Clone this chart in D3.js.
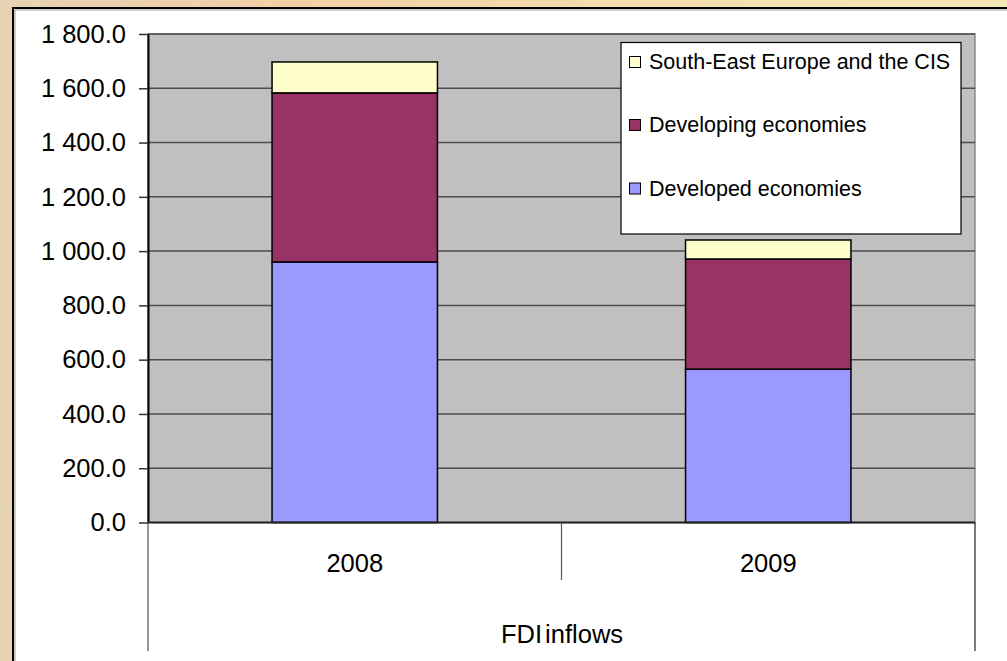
<!DOCTYPE html>
<html>
<head>
<meta charset="utf-8">
<script src="https://cdn.jsdelivr.net/npm/d3@7"></script>
<style>
  html, body { margin: 0; padding: 0; }
  body { width: 1007px; height: 661px; overflow: hidden; }
  svg { display: block; font-family: "Liberation Sans", Arial, sans-serif; }
</style>
</head>
<body>
<svg id="chart" width="1007" height="661"></svg>
<script>
// FDI inflows by group of economies, billions of dollars
const years = ["2008", "2009"];
const seriesNames = ["Developed economies", "Developing economies", "South-East Europe and the CIS"];
const developed = [960, 565];
const developing = [623, 406];
const seeCis = [114, 70];
const yTicks = [0, 200, 400, 600, 800, 1000, 1200, 1400, 1600, 1800];
const categoryTitle = "FDI inflows";

const colors = ["#9999FF", "#993366", "#FFFFCC"];

const svg = d3.select("#chart");

// page background
const defs = svg.append("defs");
const bg = defs.append("linearGradient").attr("id", "bg").attr("x1", "0").attr("y1", "0").attr("x2", "1").attr("y2", "0");
bg.append("stop").attr("offset", "0").attr("stop-color", "#E6D3B3");
bg.append("stop").attr("offset", "0.3").attr("stop-color", "#F3CFA6");
bg.append("stop").attr("offset", "0.6").attr("stop-color", "#F3DDB0");
bg.append("stop").attr("offset", "1").attr("stop-color", "#F4E8B4");
svg.append("rect").attr("width", 1007).attr("height", 661).attr("fill", "url(#bg)");

// chart frame
svg.append("rect")
  .attr("x", 13).attr("y", 8).attr("width", 1010).attr("height", 670)
  .attr("fill", "#FFFFFF").attr("stroke", "#000").attr("stroke-width", 2);
svg.append("path").attr("d", "M15,1000V10H1007").attr("fill", "none").attr("stroke", "#9a9a9a").attr("stroke-width", 1);

const plot = { left: 148, right: 975, top: 34, bottom: 522.5 };

const y = d3.scaleLinear().domain([0, 1800]).range([plot.bottom, plot.top]);
const xCat = d3.scaleBand().domain(years).range([plot.left, plot.right]).padding(0);
const x = d3.scaleBand().domain(years).range([plot.left, plot.right]).paddingInner(0.6).paddingOuter(0.3);

// plot area
svg.append("rect")
  .attr("x", plot.left).attr("y", plot.top)
  .attr("width", plot.right - plot.left).attr("height", plot.bottom - plot.top)
  .attr("fill", "#C0C0C0").attr("stroke", "#8c8c8c").attr("stroke-width", 1.5);

// gridlines
svg.append("g").selectAll("line").data(yTicks.filter(d => d > 0)).join("line")
  .attr("x1", plot.left).attr("x2", plot.right)
  .attr("y1", d => y(d)).attr("y2", d => y(d))
  .attr("stroke", "#4d4d4d").attr("stroke-width", 1.5);

// stacked bars
const rows = years.map((yr, i) => ({ year: yr, a: developed[i], b: developing[i], c: seeCis[i] }));
const stacked = d3.stack().keys(["a", "b", "c"])(rows);

svg.append("g").selectAll("g").data(stacked).join("g")
  .attr("fill", (d, i) => colors[i])
  .selectAll("rect").data(d => d).join("rect")
  .attr("x", d => x(d.data.year))
  .attr("width", x.bandwidth())
  .attr("y", d => y(d[1]))
  .attr("height", d => y(d[0]) - y(d[1]))
  .attr("stroke", "#000").attr("stroke-width", 1.5);

// value axis
const fmt = v => d3.format(",.1f")(v).replace(/,/g, " ");
const yAxis = svg.append("g")
  .attr("transform", `translate(${plot.left},0)`)
  .call(d3.axisLeft(y).tickValues(yTicks).tickFormat(fmt).tickSize(9).tickSizeOuter(0).tickPadding(13));
yAxis.select(".domain").attr("stroke", "#000").attr("stroke-width", 2);
yAxis.selectAll(".tick line").attr("stroke", "#333").attr("stroke-width", 1.5);
yAxis.selectAll(".tick text").attr("font-size", 25.5).attr("fill", "#000")
  .attr("font-family", "'Liberation Sans', Arial, sans-serif");

// category axis line and dividers
svg.append("line").attr("x1", plot.left).attr("x2", plot.right)
  .attr("y1", plot.bottom).attr("y2", plot.bottom).attr("stroke", "#222").attr("stroke-width", 2);
svg.append("line").attr("x1", plot.left).attr("x2", plot.left)
  .attr("y1", plot.bottom).attr("y2", 651).attr("stroke", "#555").attr("stroke-width", 1.2);
svg.append("line").attr("x1", plot.right).attr("x2", plot.right)
  .attr("y1", plot.bottom).attr("y2", 651).attr("stroke", "#222").attr("stroke-width", 1.2);
svg.append("g").selectAll("line").data(years.slice(1)).join("line")
  .attr("x1", d => xCat(d)).attr("x2", d => xCat(d))
  .attr("y1", plot.bottom).attr("y2", 580)
  .attr("stroke", "#555").attr("stroke-width", 1.2);

svg.append("g").selectAll("text").data(years).join("text")
  .attr("x", d => xCat(d) + xCat.bandwidth() / 2)
  .attr("y", 563)
  .attr("text-anchor", "middle").attr("dominant-baseline", "central")
  .attr("font-size", 25.5).attr("fill", "#000")
  .text(d => d);

svg.append("text")
  .attr("x", (plot.left + plot.right) / 2 + 0.5).attr("y", 634)
  .attr("text-anchor", "middle").attr("dominant-baseline", "central")
  .attr("font-size", 25.5).attr("fill", "#000").attr("word-spacing", -4)
  .text(categoryTitle);

// legend
const legend = svg.append("g");
legend.append("rect").attr("x", 621).attr("y", 42.5).attr("width", 340).attr("height", 191.5)
  .attr("fill", "#FFFFFF").attr("stroke", "#000").attr("stroke-width", 1.2);
const legendOrder = [2, 1, 0];
const legendY = [62, 125, 188.5];
const items = legend.selectAll("g.item").data(legendOrder).join("g").attr("class", "item")
  .attr("transform", (d, i) => `translate(629,${legendY[i]})`);
items.append("rect").attr("x", 0.5).attr("y", -5.5).attr("width", 11).attr("height", 11)
  .attr("fill", d => colors[d]).attr("stroke", "#000").attr("stroke-width", 1);
items.append("text").attr("x", 20).attr("y", 0).attr("dominant-baseline", "central")
  .attr("font-size", 21.5).attr("fill", "#000")
  .text(d => seriesNames[d]);
</script>
</body>
</html>
